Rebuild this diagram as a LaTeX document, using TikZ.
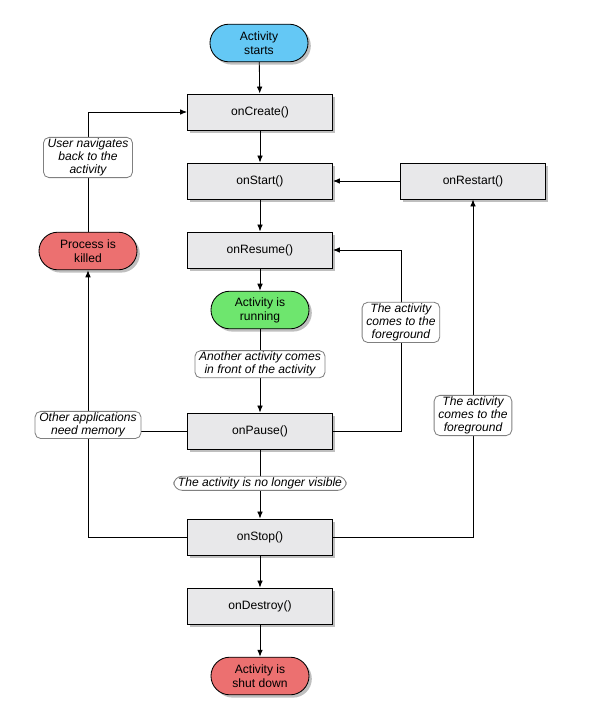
\documentclass[tikz,border=0pt]{standalone}
\usepackage{fontspec}
\setmainfont{Liberation Sans}
\usetikzlibrary{arrows.meta,shadows}
\definecolor{startblue}{RGB}{100,200,245}
\definecolor{rungreen}{RGB}{110,230,110}
\definecolor{endred}{RGB}{236,112,112}
\definecolor{boxgray}{RGB}{232,232,234}

\begin{document}
\begin{tikzpicture}[x=0.025cm,y=-0.025cm,
  every node/.style={font=\fontsize{8.6}{10}\selectfont, align=center},
  method/.style={draw, line width=.6pt, fill=boxgray, minimum width=3.625cm, minimum height=.9cm,
    drop shadow={shadow xshift=2pt, shadow yshift=-2pt, opacity=.5}},
  state/.style={draw, line width=.6pt, rounded corners=.47cm, minimum width=2.45cm, minimum height=.94cm,
    drop shadow={shadow xshift=2pt, shadow yshift=-2pt, opacity=.5}},
  note/.style={draw=gray, fill=white, rounded corners=4pt, inner xsep=3pt, inner ysep=1pt,
    font=\fontsize{8.6}{9.3}\selectfont\itshape},
  flow/.style={-{Latex[length=5pt,width=4pt]}, line width=.6pt}
]
\useasboundingbox (0,0) rectangle (606,710);

\node[state, fill=startblue] (starts) at (259,43) {Activity\\starts};
\node[method] (create) at (260,112) {onCreate()};
\node[method] (start) at (260,181) {onStart()};
\node[method] (restart) at (473,181) {onRestart()};
\node[method] (resume) at (260,250) {onResume()};
\node[state, fill=rungreen] (running) at (260,310) {Activity is\\running};
\node[method] (pause) at (260,431) {onPause()};
\node[method] (stop) at (260,537) {onStop()};
\node[method] (destroy) at (260,606) {onDestroy()};
\node[state, fill=endred] (shutdown) at (260,676) {Activity is\\shut down};
\node[state, fill=endred] (killed) at (88,251) {Process is\\killed};

\draw[flow] (starts) -- (create);
\draw[flow] (create) -- (start);
\draw[flow] (start) -- (resume);
\draw[flow] (resume) -- (running);
\draw[flow] (running) -- node[note, pos=.42] (infront) {Another activity comes\\in front of the activity} (pause);
\draw[flow] (pause) -- node[note, pos=.49, rounded corners=6pt] (hidden) {The activity is no longer visible} (stop);
\draw[flow] (stop) -- (destroy);
\draw[flow] (destroy) -- (shutdown);
\draw[flow] (restart) -- (start);

\draw[flow] (pause.east) -- ++(68,0) coordinate (a) |- node[note, pos=.3] (front1) {The activity\\comes to the\\foreground} (resume.east);
\draw[flow] (stop.east) -| node[note, pos=.68] (front2) {The activity\\comes to the\\foreground} (restart.south);
\draw (pause.west) -- (pause.west -| killed);
\draw[flow] (stop.west) -| node[note, pos=.71] (memory) {Other applications\\need memory} (killed.south);
\draw[flow] (killed.north) |- node[note, pos=.31] (back) {User navigates\\back to the\\activity} (create.west);
\end{tikzpicture}
\end{document}
